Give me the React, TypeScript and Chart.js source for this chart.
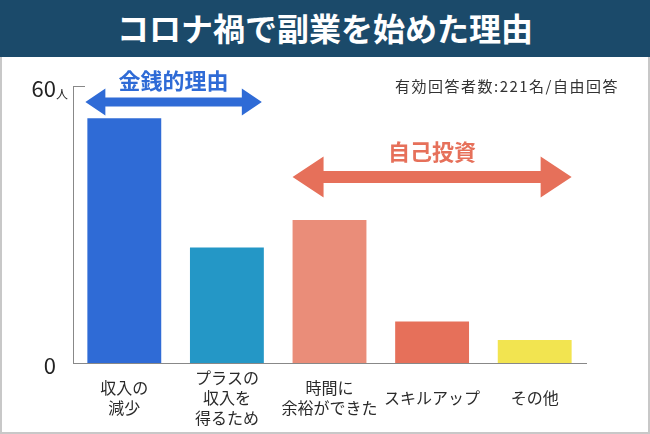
import React, { useEffect, useRef } from "react";
import { Chart, registerables } from "chart.js";

Chart.register(...registerables);

const titleText = "コロナ禍で副業を始めた理由";
const categories: string[][] = [
  ["収入の", "減少"],
  ["プラスの", "収入を", "得るため"],
  ["時間に", "余裕ができた"],
  ["スキルアップ"],
  ["その他"],
];
const values = [53, 25, 31, 9, 5];
const barColors = ["#2f6bd6", "#2497c6", "#ea8d79", "#e6705a", "#f2e450"];
const yTickValues = [0, 60];
const yUnit = "人";
const noteText = "有効回答者数:221名/自由回答";
const groupLabels = ["金銭的理由", "自己投資"];
const groupFrom = [0, 2];
const groupTo = [1, 4];
const groupColors = ["#2f6bd6", "#e6705a"];

const FONT = '"Noto Sans CJK JP", "Noto Sans", sans-serif';

function drawDoubleArrow(
  ctx: CanvasRenderingContext2D,
  x1: number,
  x2: number,
  y: number,
  shaft: number,
  headH: number,
  headL: number,
  color: string
) {
  ctx.save();
  ctx.fillStyle = color;
  ctx.beginPath();
  ctx.moveTo(x1, y);
  ctx.lineTo(x1 + headL, y - headH / 2);
  ctx.lineTo(x1 + headL, y - shaft / 2);
  ctx.lineTo(x2 - headL, y - shaft / 2);
  ctx.lineTo(x2 - headL, y - headH / 2);
  ctx.lineTo(x2, y);
  ctx.lineTo(x2 - headL, y + headH / 2);
  ctx.lineTo(x2 - headL, y + shaft / 2);
  ctx.lineTo(x1 + headL, y + shaft / 2);
  ctx.lineTo(x1 + headL, y + headH / 2);
  ctx.closePath();
  ctx.fill();
  ctx.restore();
}

const overlayPlugin = {
  id: "overlay",
  afterDraw(chart: any) {
    const ctx: CanvasRenderingContext2D = chart.ctx;
    const yScale = chart.scales.y;
    const area = chart.chartArea;
    const meta = chart.getDatasetMeta(0);

    ctx.save();
    ctx.fillStyle = "#222";
    ctx.textBaseline = "middle";
    yTickValues.forEach((v) => {
      const py = yScale.getPixelForValue(v);
      ctx.font = `22px ${FONT}`;
      ctx.textAlign = "right";
      ctx.fillText(String(v), 56, py + 3);
      if (v === yTickValues[yTickValues.length - 1]) {
        ctx.font = `12px ${FONT}`;
        ctx.textAlign = "left";
        ctx.fillText(yUnit, 56, py + 8);
        ctx.strokeStyle = "#888";
        ctx.lineWidth = 1;
        ctx.beginPath();
        ctx.moveTo(area.left, Math.round(py) + 0.5);
        ctx.lineTo(area.left + 12, Math.round(py) + 0.5);
        ctx.stroke();
      }
    });
    ctx.restore();

    ctx.save();
    ctx.fillStyle = "#333";
    ctx.font = `15px ${FONT}`;
    (ctx as any).letterSpacing = "1.5px";
    ctx.textAlign = "right";
    ctx.textBaseline = "middle";
    ctx.fillText(noteText, 619, 86);
    ctx.restore();

    const arrowY = [102, 177];
    const labelY = [81, 152];
    const shafts = [9, 12];
    const headHs = [27, 41];
    const headLs = [20, 31];
    const shifts = [-2, 0];
    groupLabels.forEach((lab, i) => {
      const b0 = meta.data[groupFrom[i]];
      const b1 = meta.data[groupTo[i]];
      const x1 = b0.x - b0.width / 2 + shifts[i];
      const x2 = b1.x + b1.width / 2 + shifts[i];
      drawDoubleArrow(ctx, x1, x2, arrowY[i], shafts[i], headHs[i], headLs[i], groupColors[i]);
      ctx.save();
      ctx.fillStyle = groupColors[i];
      ctx.font = `bold 22px ${FONT}`;
      ctx.textAlign = "center";
      ctx.textBaseline = "middle";
      ctx.fillText(lab, (x1 + x2) / 2, labelY[i]);
      ctx.restore();
    });
  },
};

export default function App() {
  const ref = useRef<HTMLCanvasElement | null>(null);

  useEffect(() => {
    if (!ref.current) return;
    const chart = new Chart(ref.current, {
      type: "bar",
      data: {
        labels: categories,
        datasets: [
          {
            data: values,
            backgroundColor: barColors,
            borderWidth: 0,
            barPercentage: 0.72,
            categoryPercentage: 1,
          },
        ],
      },
      options: {
        animation: false,
        responsive: true,
        maintainAspectRatio: false,
        layout: { padding: { left: 73, top: 86, right: 64, bottom: 0 } },
        plugins: {
          legend: { display: false },
          tooltip: { enabled: false },
          title: { display: false },
        },
        scales: {
          x: {
            grid: { display: false },
            border: { display: true, color: "#888", width: 1 },
            ticks: {
              color: "#2a2a2a",
              font: { family: FONT, size: 16, lineHeight: 1.25 },
              padding: 7,
              crossAlign: "center",
              maxRotation: 0,
              minRotation: 0,
              autoSkip: false,
            },
            afterFit: (s: any) => {
              s.height = 71;
            },
          },
          y: {
            min: 0,
            max: 60,
            grid: { display: false },
            border: { display: true, color: "#888", width: 1 },
            ticks: { display: false },
            afterFit: (s: any) => {
              s.width = 0;
            },
          },
        },
      },
      plugins: [overlayPlugin],
    });
    return () => chart.destroy();
  }, []);

  return (
    <div
      style={{
        position: "absolute",
        left: 0,
        top: 0,
        width: 650,
        height: 434,
        background: "#fff",
        overflow: "hidden",
      }}
    >
      <div
        style={{
          position: "absolute",
          left: 0,
          top: 0,
          width: 650,
          height: 57,
          background: "#1b4a6a",
          color: "#fff",
          fontFamily: FONT,
          fontWeight: 700,
          fontSize: 32,
          lineHeight: "55px",
          textAlign: "center",
          letterSpacing: 0,
        }}
      >
        {titleText}
      </div>
      <div
        style={{
          position: "absolute",
          left: 0,
          top: 57,
          width: 646,
          height: 375,
          borderLeft: "2px solid #c8c8c8",
          borderRight: "2px solid #c8c8c8",
          borderBottom: "2px solid #c8c8c8",
        }}
      />
      <div style={{ position: "absolute", left: 0, top: 0, width: 650, height: 434 }}>
        <canvas ref={ref} />
      </div>
    </div>
  );
}
